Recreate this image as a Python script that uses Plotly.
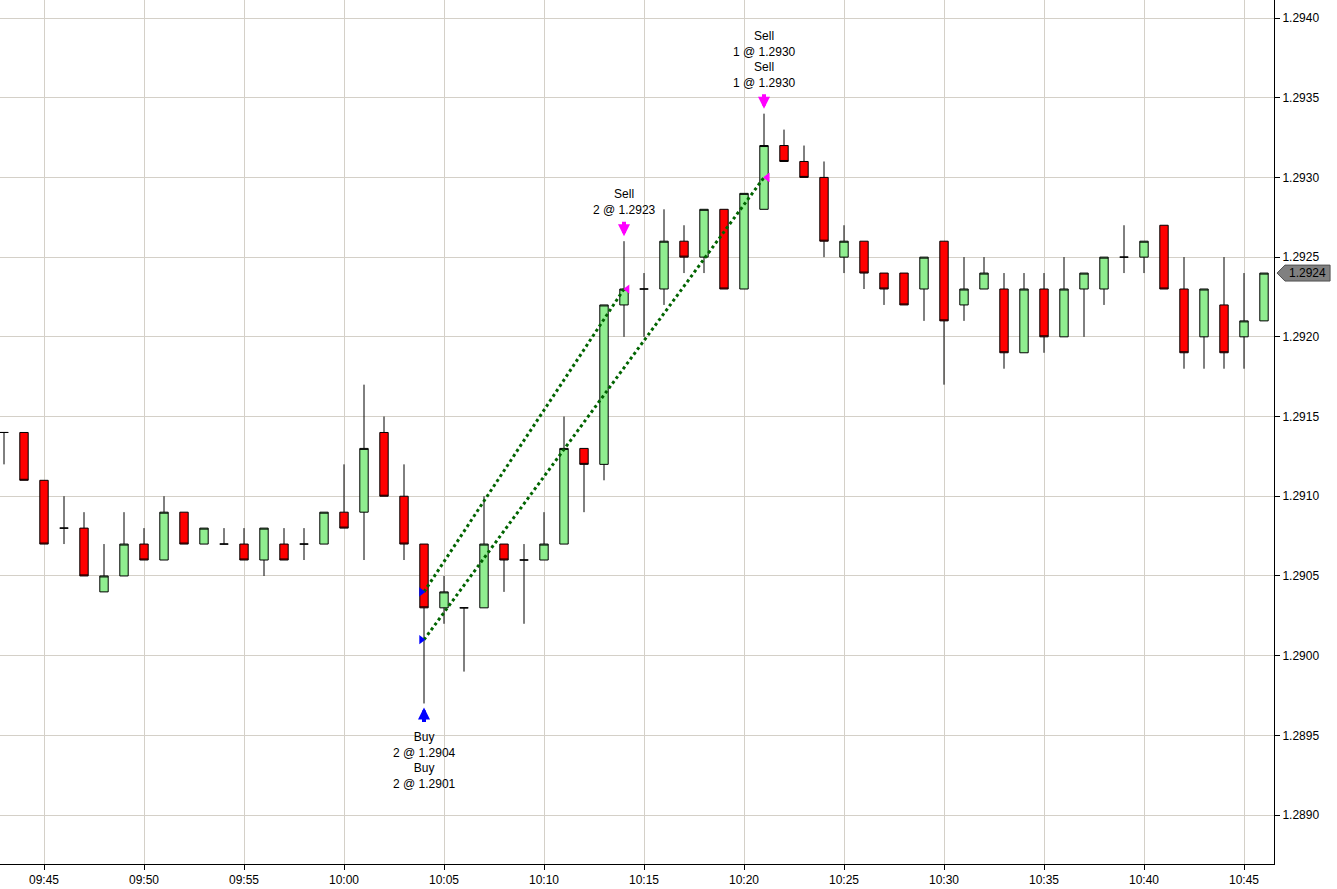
import plotly.graph_objects as go

# 1-minute bars (time label, OHLC)
times = [
    "09:43", "09:44", "09:45", "09:46", "09:47", "09:48", "09:49", "09:50", "09:51", "09:52",
    "09:53", "09:54", "09:55", "09:56", "09:57", "09:58", "09:59", "10:00", "10:01", "10:02",
    "10:03", "10:04", "10:05", "10:06", "10:07", "10:08", "10:09", "10:10", "10:11", "10:12",
    "10:13", "10:14", "10:15", "10:16", "10:17", "10:18", "10:19", "10:20", "10:21", "10:22",
    "10:23", "10:24", "10:25", "10:26", "10:27", "10:28", "10:29", "10:30", "10:31", "10:32",
    "10:33", "10:34", "10:35", "10:36", "10:37", "10:38", "10:39", "10:40", "10:41", "10:42",
    "10:43", "10:44", "10:45", "10:46",
]
opens = [
    1.2914, 1.2914, 1.2911, 1.2908, 1.2908, 1.2904, 1.2905, 1.2907, 1.2906, 1.2909,
    1.2907, 1.2907, 1.2907, 1.2906, 1.2907, 1.2907, 1.2907, 1.2909, 1.2909, 1.2914,
    1.2910, 1.2907, 1.2903, 1.2903, 1.2903, 1.2907, 1.2906, 1.2906, 1.2907, 1.2913,
    1.2912, 1.2922, 1.2923, 1.2923, 1.2926, 1.2925, 1.2928, 1.2923, 1.2928, 1.2932,
    1.2931, 1.2930, 1.2925, 1.2926, 1.2924, 1.2924, 1.2923, 1.2926, 1.2922, 1.2923,
    1.2923, 1.2919, 1.2923, 1.2920, 1.2923, 1.2923, 1.2925, 1.2925, 1.2927, 1.2923,
    1.2920, 1.2922, 1.2920, 1.2921,
]
highs = [
    1.2914, 1.2914, 1.2911, 1.2910, 1.2909, 1.2907, 1.2909, 1.2908, 1.2910, 1.2909,
    1.2908, 1.2908, 1.2908, 1.2908, 1.2908, 1.2908, 1.2909, 1.2912, 1.2917, 1.2915,
    1.2912, 1.2907, 1.2905, 1.2903, 1.2910, 1.2907, 1.2907, 1.2909, 1.2915, 1.2913,
    1.2922, 1.2926, 1.2924, 1.2928, 1.2927, 1.2928, 1.2928, 1.2929, 1.2934, 1.2933,
    1.2932, 1.2931, 1.2927, 1.2926, 1.2924, 1.2924, 1.2925, 1.2926, 1.2925, 1.2925,
    1.2924, 1.2924, 1.2924, 1.2925, 1.2924, 1.2925, 1.2927, 1.2926, 1.2927, 1.2925,
    1.2923, 1.2925, 1.2924, 1.2924,
]
lows = [
    1.2912, 1.2911, 1.2907, 1.2907, 1.2905, 1.2904, 1.2905, 1.2906, 1.2906, 1.2907,
    1.2907, 1.2907, 1.2906, 1.2905, 1.2906, 1.2906, 1.2907, 1.2908, 1.2906, 1.2910,
    1.2906, 1.2897, 1.2902, 1.2899, 1.2903, 1.2904, 1.2902, 1.2906, 1.2907, 1.2909,
    1.2911, 1.2920, 1.2920, 1.2922, 1.2924, 1.2924, 1.2923, 1.2923, 1.2928, 1.2931,
    1.2930, 1.2925, 1.2924, 1.2923, 1.2922, 1.2922, 1.2921, 1.2917, 1.2921, 1.2923,
    1.2918, 1.2919, 1.2919, 1.2920, 1.2920, 1.2922, 1.2924, 1.2924, 1.2923, 1.2918,
    1.2918, 1.2918, 1.2918, 1.2921,
]
closes = [
    1.2914, 1.2911, 1.2907, 1.2908, 1.2905, 1.2905, 1.2907, 1.2906, 1.2909, 1.2907,
    1.2908, 1.2907, 1.2906, 1.2908, 1.2906, 1.2907, 1.2909, 1.2908, 1.2913, 1.2910,
    1.2907, 1.2903, 1.2904, 1.2903, 1.2907, 1.2906, 1.2906, 1.2907, 1.2913, 1.2912,
    1.2922, 1.2923, 1.2923, 1.2926, 1.2925, 1.2928, 1.2923, 1.2929, 1.2932, 1.2931,
    1.2930, 1.2926, 1.2926, 1.2924, 1.2923, 1.2922, 1.2925, 1.2921, 1.2923, 1.2924,
    1.2919, 1.2923, 1.2920, 1.2923, 1.2924, 1.2925, 1.2925, 1.2926, 1.2923, 1.2919,
    1.2923, 1.2919, 1.2921, 1.2924,
]

# executions
buy_times = ["10:04", "10:04"]
buy_prices = [1.2904, 1.2901]
buy_qty = [2, 2]
sell_times = ["10:14", "10:21", "10:21"]
sell_prices = [1.2923, 1.2930, 1.2930]
sell_qty = [2, 1, 1]

DAY = "2024-01-02 "
GRID = "#D4D0C8"
FONT = "Liberation Sans, Arial"


def ts(hhmm, sec=0):
    h, m = map(int, hhmm.split(":"))
    total = h * 3600 + m * 60 + sec
    return DAY + "%02d:%02d:%02d" % (total // 3600, (total % 3600) // 60, total % 60)


x = [ts(t) for t in times]

fig = go.Figure()

fig.add_trace(go.Candlestick(
    x=x, open=opens, high=highs, low=lows, close=closes,
    increasing=dict(fillcolor="#90EE90", line=dict(color="black", width=1)),
    decreasing=dict(fillcolor="#FF0000", line=dict(color="black", width=1)),
    whiskerwidth=0,
    showlegend=False,
    hoverinfo="skip",
))

# dotted round-trip lines (entry -> exit)
for bt, bp, st, sp in zip(buy_times, buy_prices, sell_times[:2], sell_prices[:2]):
    fig.add_trace(go.Scatter(
        x=[ts(bt), ts(st)], y=[bp, sp], mode="lines",
        line=dict(color="#006400", width=3, dash="dot"),
        showlegend=False, hoverinfo="skip",
    ))

fig.add_trace(go.Scatter(
    x=[ts(t, -8) for t in buy_times], y=buy_prices, mode="markers",
    marker=dict(symbol="triangle-right", size=8, color="#0000FF"),
    showlegend=False, hoverinfo="skip",
))
fig.add_trace(go.Scatter(
    x=[ts(t, 10) for t in sell_times], y=sell_prices, mode="markers",
    marker=dict(symbol="triangle-left", size=8, color="#FF00FF"),
    showlegend=False, hoverinfo="skip",
))

annos = []
txt_font = dict(family=FONT, size=12, color="black")

# buy group (below the bar low)
buy_bar = times.index(buy_times[0])
buy_text = "<br>".join("Buy<br>%d @ %.4f" % (q, p) for q, p in zip(buy_qty, buy_prices))
annos.append(dict(x=ts(buy_times[0]), y=lows[buy_bar], xref="x", yref="y", text="",
                  showarrow=True, ax=0, ay=20, standoff=4, arrowhead=2, arrowsize=0.6,
                  arrowwidth=4, arrowcolor="#0000FF"))
annos.append(dict(x=ts(buy_times[0]), y=lows[buy_bar], xref="x", yref="y", text=buy_text,
                  showarrow=False, yanchor="top", yshift=-25, font=txt_font))

# sell groups (above the bar high)
groups = {}
for t, p, q in zip(sell_times, sell_prices, sell_qty):
    groups.setdefault(t, []).append((q, p))
for t, rows in groups.items():
    hi = highs[times.index(t)]
    annos.append(dict(x=ts(t), y=hi, xref="x", yref="y", text="",
                      showarrow=True, ax=0, ay=-21, standoff=5, arrowhead=2, arrowsize=0.6,
                      arrowwidth=4, arrowcolor="#FF00FF"))
    annos.append(dict(x=ts(t), y=hi, xref="x", yref="y",
                      text="<br>".join("Sell<br>%d @ %.4f" % (q, p) for q, p in rows),
                      showarrow=False, yanchor="bottom", yshift=22, font=txt_font))

# last price tag on the price axis
last = closes[-1]
h = 0.00005
shapes = [dict(type="path", xref="paper", yref="y", layer="above",
               path="M 1.0024 %f L 1.0086 %f L 1.0440 %f L 1.0440 %f L 1.0086 %f Z"
                    % (last, last + h, last + h, last - h, last - h),
               fillcolor="#808080", line=dict(color="#505050", width=1))]
annos.append(dict(x=1.0265, y=last, xref="paper", yref="y", text="%.4f" % last,
                  showarrow=False, xanchor="center", yanchor="middle",
                  font=dict(family=FONT, size=12, color="black")))

fig.update_layout(
    width=1337, height=889,
    margin=dict(l=0, r=63, t=0, b=25, autoexpand=False),
    paper_bgcolor="white", plot_bgcolor="white",
    font=dict(family=FONT, size=12, color="black"),
    boxgap=0.4,
    annotations=annos,
    shapes=shapes,
)
fig.update_xaxes(
    type="date", automargin=False,
    range=[ts("09:42", 48), ts("10:46", 30)],
    tick0=ts("09:45"), dtick=300000, tickformat="%H:%M",
    showgrid=True, gridcolor=GRID, gridwidth=1,
    showline=True, linecolor="black", linewidth=1,
    ticks="outside", ticklen=5, tickcolor="black",
    rangeslider=dict(visible=False),
    zeroline=False,
)
fig.update_yaxes(
    automargin=False,
    range=[1.288693, 1.294113],
    side="right", dtick=0.0005, tickformat=".4f",
    showgrid=True, gridcolor=GRID, gridwidth=1,
    showline=True, linecolor="black", linewidth=1,
    ticks="outside", ticklen=5, tickcolor="black",
    zeroline=False,
)

fig.write_html("out.html", config={"displayModeBar": False},
               post_script="document.body.style.margin='0';")
